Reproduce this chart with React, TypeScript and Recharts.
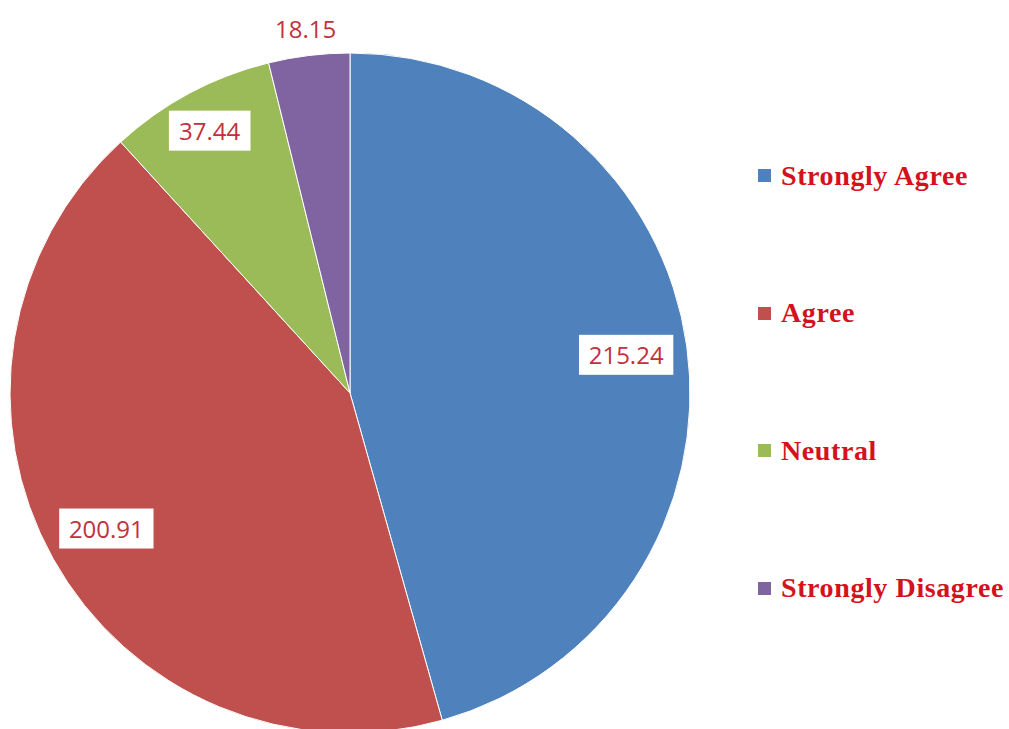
import type { FC } from 'react';
import { Legend, Pie, PieChart, Cell } from 'recharts';

const categories = ['Strongly Agree', 'Agree', 'Neutral', 'Strongly Disagree'];
const values = [215.24, 200.91, 37.44, 18.15];
const colors = ['#4F81BD', '#C0504D', '#9BBB59', '#8064A2'];

const data = categories.map((name, i) => ({ name, value: values[i] }));

const RADIAN = Math.PI / 180;
const labelColor = '#C3303C';
const labelFont = 24;

const renderLabel = (props: any) => {
  const { cx, cy, midAngle, outerRadius, percent, value } = props;
  // big slices sit inside, thin ones pushed out past the rim
  let factor = 0.82;
  if (percent < 0.05) factor = 1.08;
  else if (percent < 0.2) factor = 0.875;
  const r = outerRadius * factor;
  const x = cx + r * Math.cos(-midAngle * RADIAN);
  const y = cy + r * Math.sin(-midAngle * RADIAN);
  const text = value.toFixed(2);
  const w = text.length * labelFont * 0.53 + 18;
  const h = 40;
  return (
    <g>
      {percent >= 0.05 && <rect x={x - w / 2} y={y - h / 2} width={w} height={h} fill="#fff" />}
      <text
        x={x}
        y={y}
        textAnchor="middle"
        dominantBaseline="central"
        fill={labelColor}
        fontSize={labelFont}
        fontFamily="'Open Sans', 'Liberation Sans', sans-serif"
      >
        {text}
      </text>
    </g>
  );
};

const renderLegend = () => (
  <div style={{ display: 'flex', flexDirection: 'column' }}>
    {categories.map((name, i) => (
      <div key={name} style={{ display: 'flex', alignItems: 'center', height: 137.5 }}>
        <span style={{ width: 13, height: 13, background: colors[i], marginRight: 10, display: 'inline-block' }} />
        <span
          style={{
            fontFamily: "'Liberation Serif', 'Times New Roman', serif",
            fontWeight: 700,
            fontSize: 28,
            letterSpacing: 0.6,
            color: '#D4121E',
            whiteSpace: 'nowrap',
          }}
        >
          {name}
        </span>
      </div>
    ))}
  </div>
);

const App: FC = () => {
  return (
    <div style={{ width: 1009, height: 729, background: '#fff', position: 'relative' }}>
      <style>{`body{margin:0}`}</style>
      <PieChart width={1009} height={729} margin={{ top: 0, right: 0, bottom: 0, left: 0 }}>
        <Pie
          data={data}
          dataKey="value"
          nameKey="name"
          cx={350}
          cy={393}
          outerRadius={340}
          startAngle={90}
          endAngle={-270}
          stroke="#fff"
          strokeWidth={1}
          label={renderLabel}
          labelLine={false}
          isAnimationActive={false}
        >
          {data.map((d, i) => (
            <Cell key={d.name} fill={colors[i]} />
          ))}
        </Pie>
        <Legend
          content={renderLegend}
          wrapperStyle={{ position: 'absolute', left: 758, top: 107, width: 251 }}
        />
      </PieChart>
    </div>
  );
};

export default App;
